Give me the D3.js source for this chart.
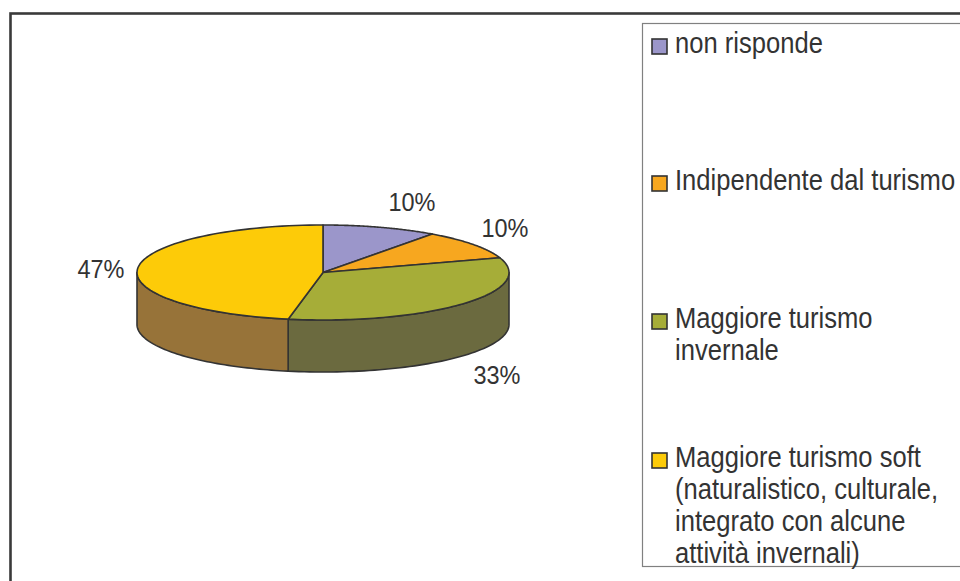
<!DOCTYPE html>
<html>
<head>
<meta charset="utf-8">
<script src="https://cdn.jsdelivr.net/npm/d3@7"></script>
<style>
  body { margin: 0; background: #fff; }
  svg { display: block; font-family: "Liberation Sans", Arial, sans-serif; }
</style>
</head>
<body>
<div id="chart"></div>
<script>
// data
var categories = ["non risponde", "Indipendente dal turismo", "Maggiore turismo invernale",
                  "Maggiore turismo soft (naturalistico, culturale, integrato con alcune attività invernali)"];
var legendLines = [["non risponde"], ["Indipendente dal turismo"], ["Maggiore turismo", "invernale"],
                   ["Maggiore turismo soft", "(naturalistico, culturale,", "integrato con alcune", "attività invernali)"]];
var values = [10, 10, 33, 47];
var labels = ["10%", "10%", "33%", "47%"];

var topColors = ["#9b96ca", "#f7a71f", "#a6ad38", "#fdcb08"];
var sideColors = ["#5f5c80", "#9c6a14", "#6b6a3f", "#977339"];

var W = 960, H = 581;
var svg = d3.select("#chart").append("svg").attr("width", W).attr("height", H);

// outer frame
svg.append("rect")
    .attr("x", 10.5).attr("y", 13.5)
    .attr("width", 980).attr("height", 600)
    .attr("fill", "none").attr("stroke", "#3a3a3a").attr("stroke-width", 2.6);

// pie geometry
var cx = 323, cy = 272.5, rx = 186, ry = 47.5, depth = 52;

var pie = d3.pie().sort(null).value(function(d){ return d; });
var arcs = pie(values);

function pt(a, dy) {
    return [cx + rx * Math.sin(a), cy - ry * Math.cos(a) + (dy || 0)];
}

var line = d3.line();

// side walls (visible front half)
var g = svg.append("g");
arcs.forEach(function(d, i) {
    var a0 = Math.max(d.startAngle, Math.PI / 2);
    var a1 = Math.min(d.endAngle, 3 * Math.PI / 2);
    if (a1 <= a0) return;
    var n = 60, top = [], bot = [];
    for (var k = 0; k <= n; k++) {
        var a = a0 + (a1 - a0) * k / n;
        top.push(pt(a, 0));
        bot.push(pt(a, depth));
    }
    var poly = top.concat(bot.reverse());
    g.append("path")
        .attr("d", line(poly) + "Z")
        .attr("fill", sideColors[i])
        .attr("stroke", "#333").attr("stroke-width", 1.6)
        .attr("stroke-linejoin", "round");
});

// top faces
arcs.forEach(function(d, i) {
    var n = 80, pts = [[cx, cy]];
    for (var k = 0; k <= n; k++) {
        pts.push(pt(d.startAngle + (d.endAngle - d.startAngle) * k / n, 0));
    }
    g.append("path")
        .attr("d", line(pts) + "Z")
        .attr("fill", topColors[i])
        .attr("stroke", "#333").attr("stroke-width", 1.6)
        .attr("stroke-linejoin", "round");
});

// percentage labels
var labelPos = [[412, 211], [505, 237], [497, 384], [101, 278]];
svg.selectAll("text.pct").data(labels).enter().append("text")
    .attr("class", "pct")
    .attr("transform", function(d, i){ return "translate(" + labelPos[i][0] + "," + labelPos[i][1] + ") scale(1,1.1)"; })
    .attr("text-anchor", "middle")
    .attr("font-size", 23.5)
    .attr("fill", "#333")
    .text(function(d){ return d; });

// legend
svg.append("rect")
    .attr("x", 642.5).attr("y", 23.5)
    .attr("width", 400).attr("height", 543)
    .attr("fill", "#fff").attr("stroke", "#808080").attr("stroke-width", 1.2);

var legendY = [53, 190, 328, 467];
var lineH = 32;
var leg = svg.selectAll("g.leg").data(legendLines).enter().append("g").attr("class", "leg");
leg.append("rect")
    .attr("x", 652).attr("y", function(d, i){ return legendY[i] - 14; })
    .attr("width", 15).attr("height", 15)
    .attr("fill", function(d, i){ return topColors[i]; })
    .attr("stroke", "#333").attr("stroke-width", 1.6);
leg.each(function(d, i) {
    var sel = d3.select(this);
    d.forEach(function(t, j) {
        sel.append("text")
            .attr("transform", "translate(675," + (legendY[i] + j * lineH) + ") scale(1,1.12)")
            .attr("font-size", 25.6)
            .attr("fill", "#333")
            .text(t);
    });
});
</script>
</body>
</html>
